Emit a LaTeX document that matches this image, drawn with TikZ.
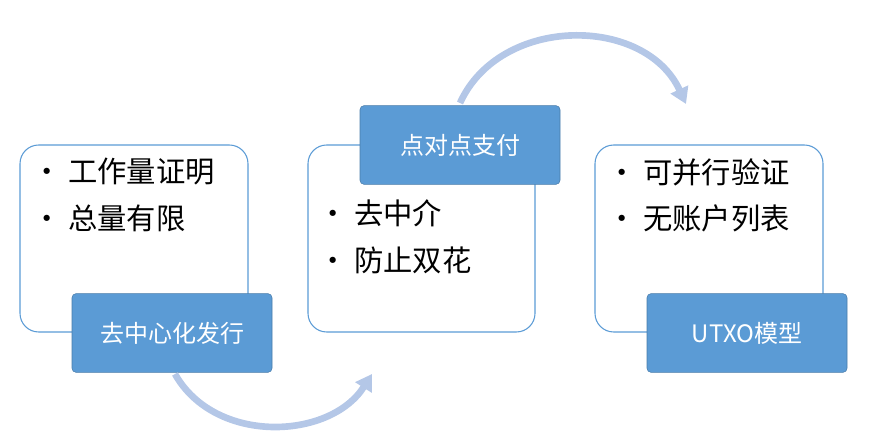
\documentclass[tikz,border=0pt]{standalone}
\usepackage{fontspec}
\setmainfont{Liberation Sans}
\newfontfamily\cjk{Noto Sans CJK SC}
\usetikzlibrary{arrows.meta}
\definecolor{lblue}{HTML}{5B9BD5}
\definecolor{arc}{HTML}{B4C7E7}
\begin{document}
\begin{tikzpicture}[x=0.75pt,y=-0.75pt,
  outer/.style={draw=lblue,line width=0.8pt,rounded corners=14pt},
  lab/.style={fill=lblue,draw=lblue!80!black,line width=0.4pt,rounded corners=3pt,text=white,font=\cjk\fontsize{18}{20}\selectfont,minimum width=150pt,minimum height=59pt},
  bul/.style={anchor=west,font=\cjk\fontsize{22}{24}\selectfont,inner sep=0pt},
  arcl/.style={draw=arc,line width=5pt,-{Triangle[length=12pt,width=14pt]}}]
\useasboundingbox (0,0) rectangle (871,448);
\draw[outer] (20,145) rectangle (248,332);
\draw[outer] (308,145) rectangle (535,332);
\draw[outer] (595,145) rectangle (823,332);
\node[lab] (l1) at (172,333) {去中心化发行};
\node[lab] (l2) at (460,145) {点对点支付};
\node[lab] (l3) at (747,333) {UTXO{\cjk 模型}};
\node[bul] (a1) at (32,172) {• 工作量证明};
\node[bul] (a2) at (32,218) {• 总量有限};
\node[bul] (b1) at (318,213) {• 去中介};
\node[bul] (b2) at (318,260) {• 防止双花};
\node[bul] (c1) at (607,172) {• 可并行验证};
\node[bul] (c2) at (607,218) {• 无账户列表};
\coordinate (s1) at (175,374);
\coordinate (e1) at (372,374);
\coordinate (s2) at (460,103);
\coordinate (e2) at (686,104);
\draw[arcl] (s1) .. controls (215,445) and (330,440) .. (e1);
\draw[arcl] (s2) .. controls (500,15) and (645,15) .. (e2);
\end{tikzpicture}
\end{document}
